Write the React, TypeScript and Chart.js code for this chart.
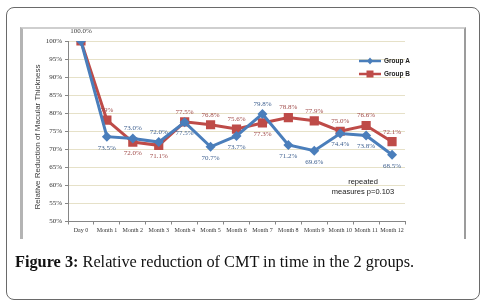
import React, { useEffect, useRef } from "react";
import { Chart, registerables } from "chart.js";

Chart.register(...registerables);

const categories = ["Day 0", "Month 1", "Month 2", "Month 3", "Month 4", "Month 5", "Month 6", "Month 7", "Month 8", "Month 9", "Month 10", "Month 11", "Month 12"];
const groupA = [100, 73.5, 73.0, 72.0, 77.5, 70.7, 73.7, 79.8, 71.2, 69.6, 74.4, 73.8, 68.5];
const groupB = [100, 78.1, 72.0, 71.1, 77.6, 76.8, 75.6, 77.3, 78.8, 77.9, 75.0, 76.6, 72.1];
const labelsA = ["", "73.5%", "73.0%", "72.0%", "77.5%", "70.7%", "73.7%", "79.8%", "71.2%", "69.6%", "74.4%", "73.8%", "68.5%"];
const labelsB = ["100.0%", "79%", "72.0%", "71.1%", "77.5%", "76.8%", "75.6%", "77.3%", "78.8%", "77.9%", "75.0%", "76.6%", "72.1%"];
const yTicks = [50, 55, 60, 65, 70, 75, 80, 85, 90, 95, 100];
const seriesNames = ["Group A", "Group B"];
const yTitle = "Relative Reduction of Macular Thickness";
const noteLines = ["repeated", "measures p=0.103"];

const BLUE = "#4A7EBB";
const RED = "#BE4B48";
const BLUE_TXT = "#3d5f8f";
const RED_TXT = "#a04a48";

const extras = {
  id: "extras",
  afterDatasetsDraw(chart: any) {
    const ctx = chart.ctx;
    const ca = chart.chartArea;
    const sets = [
      { meta: chart.getDatasetMeta(0), vals: groupA, other: groupB, labels: labelsA, color: BLUE_TXT, tie: false },
      { meta: chart.getDatasetMeta(1), vals: groupB, other: groupA, labels: labelsB, color: RED_TXT, tie: true },
    ];
    ctx.save();
    ctx.font = "7px 'Liberation Serif', serif";
    ctx.textAlign = "center";
    ctx.textBaseline = "middle";
    sets.forEach((s) => {
      s.meta.data.forEach((pt: any, i: number) => {
        const txt = s.labels[i];
        if (!txt) return;
        const above = s.vals[i] > s.other[i] || (Math.abs(s.vals[i] - s.other[i]) < 0.5 && s.tie);
        const y = above ? pt.y - 10 : pt.y + 11;
        ctx.fillStyle = i === 0 ? "#404040" : s.color;
        ctx.fillText(txt, pt.x, y);
      });
    });
    // y title
    ctx.save();
    ctx.translate(38, 137);
    ctx.rotate(-Math.PI / 2);
    ctx.font = "8px 'Liberation Sans', Arial, sans-serif";
    ctx.fillStyle = "#404040";
    ctx.fillText(yTitle, 0, 0);
    ctx.restore();
    // note
    ctx.font = "7.5px 'Liberation Sans', Arial, sans-serif";
    ctx.fillStyle = "#202020";
    ctx.fillText(noteLines[0], ca.right - 42, ca.top + 141);
    ctx.fillText(noteLines[1], ca.right - 42, ca.top + 151);
    // legend
    const items = [
      { name: seriesNames[0], color: BLUE, y: 61, shape: "diamond" },
      { name: seriesNames[1], color: RED, y: 74, shape: "square" },
    ];
    items.forEach((it) => {
      ctx.strokeStyle = it.color;
      ctx.lineWidth = 2.5;
      ctx.beginPath();
      ctx.moveTo(359, it.y);
      ctx.lineTo(381, it.y);
      ctx.stroke();
      ctx.fillStyle = it.color;
      ctx.beginPath();
      if (it.shape === "diamond") {
        ctx.moveTo(370, it.y - 3.5);
        ctx.lineTo(373, it.y);
        ctx.lineTo(370, it.y + 3.5);
        ctx.lineTo(367, it.y);
        ctx.closePath();
      } else {
        ctx.rect(366.5, it.y - 3.5, 7, 7);
      }
      ctx.fill();
      ctx.fillStyle = "#202020";
      ctx.textAlign = "left";
      ctx.font = "bold 6.5px 'Liberation Sans', Arial, sans-serif";
      ctx.fillText(it.name, 384, it.y);
    });
    ctx.restore();
  },
};

export default function App() {
  const ref = useRef<HTMLCanvasElement>(null);
  useEffect(() => {
    const chart = new Chart(ref.current as HTMLCanvasElement, {
      type: "line",
      data: {
        labels: categories,
        datasets: [
          {
            label: seriesNames[0],
            data: groupA,
            borderColor: BLUE,
            backgroundColor: BLUE,
            borderWidth: 3,
            pointStyle: "rectRot",
            pointRadius: 5,
            pointBorderWidth: 0,
            tension: 0,
          },
          {
            label: seriesNames[1],
            data: groupB,
            borderColor: RED,
            backgroundColor: RED,
            borderWidth: 3,
            pointStyle: "rect",
            pointRadius: 6.5,
            pointBorderWidth: 0,
            tension: 0,
          },
        ],
      },
      options: {
        animation: false,
        responsive: false,
        maintainAspectRatio: false,
        layout: { padding: { left: 30, top: 41, right: 83, bottom: 72.5 } },
        plugins: { legend: { display: false }, tooltip: { enabled: false } },
        scales: {
          x: {
            offset: true,
            grid: { offset: true, drawOnChartArea: false, tickLength: 3, color: "#868686" },
            border: { color: "#868686", width: 1 },
            ticks: { color: "#333", font: { family: "'Liberation Serif', serif", size: 6 }, padding: 2, maxRotation: 0, autoSkip: false },
            afterFit: (s: any) => { s.height = 14; },
          },
          y: {
            min: 50,
            max: 100,
            afterBuildTicks: (s: any) => { s.ticks = yTicks.map((v) => ({ value: v })); },
            grid: { color: "#e6e1c8", tickColor: "#868686", tickLength: 3, lineWidth: 1 },
            border: { color: "#868686", width: 1 },
            ticks: { color: "#333", font: { family: "'Liberation Serif', serif", size: 7 }, padding: 3, callback: (v: any) => v + "%" },
            afterFit: (s: any) => { s.width = 38; },
          },
        },
      },
      plugins: [extras],
    });
    return () => chart.destroy();
  }, []);

  return (
    <div style={{ position: "fixed", left: 0, top: 0, width: 488, height: 308, background: "#fff", overflow: "hidden" }}>
      <div style={{ position: "absolute", left: 6, top: 7, width: 472, height: 291, border: "1.5px solid #6a6a6a", borderRadius: 8 }} />
      <div style={{ position: "absolute", left: 20, top: 27, width: 441, height: 210, borderTop: "2px solid #cfcfcf", borderLeft: "3px solid #b4b4b4", borderRight: "2px solid #9c9c9c" }} />
      <canvas ref={ref} width={488} height={308} style={{ position: "absolute", left: 0, top: 0, width: 488, height: 308 }} />
      <div style={{ position: "absolute", left: 15, top: 252, fontFamily: "'Liberation Serif', serif", fontSize: 16.3, color: "#111", whiteSpace: "nowrap", lineHeight: "19px" }}>
        <b>Figure 3:</b> Relative reduction of CMT in time in the 2 groups.
      </div>
    </div>
  );
}
